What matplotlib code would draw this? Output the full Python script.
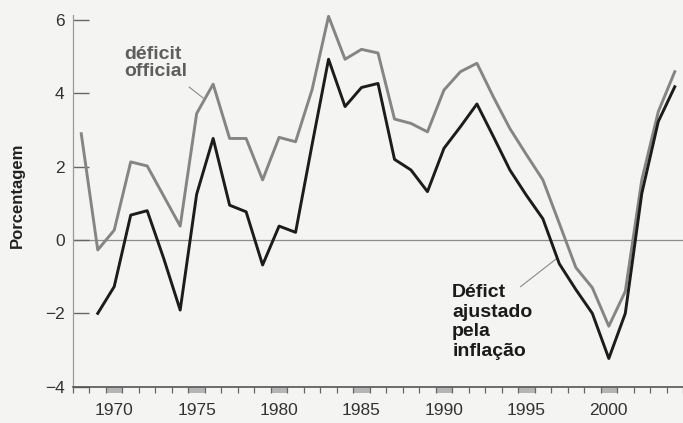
import numpy as np
import matplotlib
matplotlib.use("Agg")
from matplotlib import pyplot as plt
from matplotlib.patches import Rectangle
import matplotlib.transforms as mtransforms

# data
anos_oficial = list(range(1968, 2005))
deficit_oficial = [2.9, -0.27, 0.27, 2.13, 2.02, 1.2, 0.38, 3.45, 4.25, 2.77,
                   2.77, 1.64, 2.8, 2.68, 4.1, 6.1, 4.93, 5.2, 5.1, 3.3,
                   3.18, 2.95, 4.09, 4.59, 4.82, 3.9, 3.04, 2.33, 1.64, 0.45,
                   -0.75, -1.3, -2.35, -1.4, 1.64, 3.5, 4.59]

anos_ajustado = list(range(1969, 2005))
deficit_ajustado = [-2.0, -1.27, 0.68, 0.8, -0.5, -1.91, 1.25, 2.77, 0.95,
                    0.77, -0.68, 0.38, 0.21, 2.6, 4.93, 3.64, 4.16, 4.27, 2.2,
                    1.91, 1.32, 2.5, 3.09, 3.71, 2.82, 1.91, 1.22, 0.58, -0.65,
                    -1.35, -2.0, -3.23, -2.0, 1.27, 3.23, 4.18]

anos_rotulo = [1970, 1975, 1980, 1985, 1990, 1995, 2000]
y_ticks = [-4, -2, 0, 2, 4, 6]

plt.rcParams['font.family'] = ['Liberation Sans', 'DejaVu Sans']

fig = plt.figure(figsize=(6.83, 4.23), dpi=100)
fig.patch.set_facecolor('#f4f4f2')
ax = fig.add_axes([0.1069, 0.0858, 0.8931, 0.8799])
ax.set_facecolor('#f4f4f2')

ax.axhline(0, color='#8c8c8c', lw=0.9, zorder=1)
ax.plot(anos_oficial, deficit_oficial, color='#858585', lw=2.1, zorder=2)
ax.plot(anos_ajustado, deficit_ajustado, color='#1c1c1c', lw=2.1, zorder=3)

ax.set_xlim(1967.62, 2004.36)
ax.set_ylim(-4, 6.15)

for s in ['top', 'right']:
    ax.spines[s].set_visible(False)
ax.spines['left'].set_color('#9a9a9a')
ax.spines['left'].set_linewidth(0.9)
ax.spines['bottom'].set_color('#555555')
ax.spines['bottom'].set_linewidth(1.2)

ax.set_yticks(y_ticks)
ax.set_yticklabels([str(v).replace('-', '\u2212') for v in y_ticks])
ax.tick_params(axis='y', direction='in', length=11.5, width=1.0, color='#666666',
               labelsize=12.5, labelcolor='#333333', pad=6)

# year labels in the middle of each year, ticks at the year boundaries
ax.set_xticks(anos_rotulo)
ax.set_xticklabels([str(a) for a in anos_rotulo])
ax.tick_params(axis='x', which='major', length=0, labelsize=12.5,
               labelcolor='#333333', pad=12)
ax.set_xticks(np.arange(1967.5, 2005, 1.0), minor=True)
ax.tick_params(axis='x', which='minor', direction='out', length=4.5, width=0.9,
               color='#666666')

trans = mtransforms.blended_transform_factory(ax.transData, ax.transAxes)
for a in anos_rotulo:
    ax.add_patch(Rectangle((a - 0.5, -0.018), 1.0, 0.018, transform=trans,
                           facecolor='#b5b5b5', edgecolor='none', clip_on=False))

ax.set_ylabel('Porcentagem', fontsize=12, fontweight='bold', color='#222222')
ax.yaxis.set_label_coords(-0.079, 0.515)

ax.text(1970.6, 5.3, 'déficit\nofficial', fontsize=14, fontweight='bold',
        color='#5e5e5e', va='top', ha='left', linespacing=1.0)
ax.plot([1974.55, 1975.4], [4.17, 3.87], color='#8a8a8a', lw=0.8)

ax.text(1990.5, -1.2, 'Défict\najustado\npela\ninflação', fontsize=14,
        fontweight='bold', color='#1a1a1a', va='top', ha='left',
        linespacing=1.2)
ax.plot([1994.65, 1996.85], [-1.27, -0.5], color='#8a8a8a', lw=0.8)

fig.savefig('out.png', dpi=100, facecolor=fig.get_facecolor())
